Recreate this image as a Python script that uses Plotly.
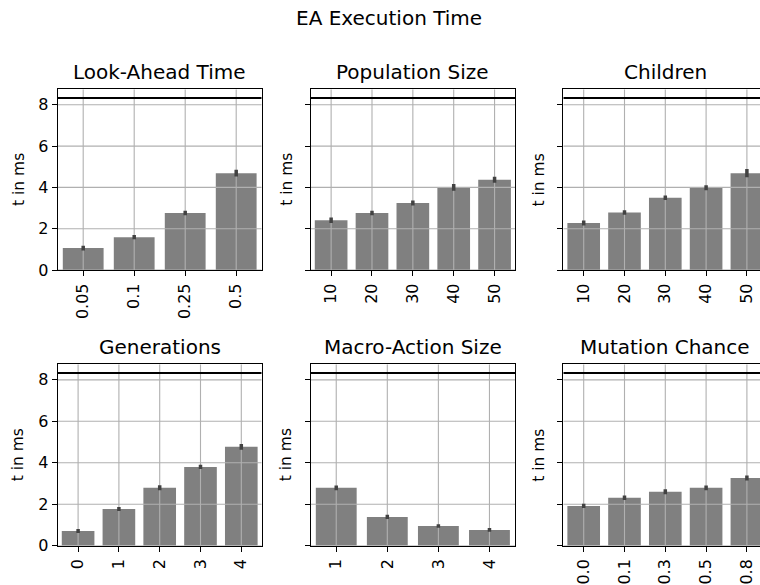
import plotly.graph_objects as go

# ---------------- data ----------------
lookahead_labels = ["0.05", "0.1", "0.25", "0.5"]
lookahead_means = [1.06, 1.59, 2.76, 4.69]
lookahead_err = [0.11, 0.10, 0.11, 0.16]

population_labels = ["10", "20", "30", "40", "50"]
population_means = [2.41, 2.76, 3.24, 4.00, 4.37]
population_err = [0.13, 0.11, 0.12, 0.16, 0.14]

children_labels = ["10", "20", "30", "40", "50"]
children_means = [2.28, 2.78, 3.50, 3.98, 4.69]
children_err = [0.12, 0.11, 0.11, 0.12, 0.20]

generations_labels = ["0", "1", "2", "3", "4"]
generations_means = [0.71, 1.77, 2.79, 3.80, 4.77]
generations_err = [0.10, 0.10, 0.12, 0.10, 0.14]

macro_labels = ["1", "2", "3", "4"]
macro_means = [2.79, 1.39, 0.95, 0.76]
macro_err = [0.11, 0.10, 0.09, 0.09]

mutation_labels = ["0.0", "0.1", "0.3", "0.5", "0.8"]
mutation_means = [1.92, 2.31, 2.60, 2.79, 3.27]
mutation_err = [0.10, 0.11, 0.12, 0.11, 0.12]

panel_titles = ["Look-Ahead Time", "Population Size", "Children",
                "Generations", "Macro-Action Size", "Mutation Chance"]
budget_line = 8.33
y_ticks = [0, 2, 4, 6, 8]
y_max = 8.75

panels = [
    (lookahead_labels, lookahead_means, lookahead_err),
    (population_labels, population_means, population_err),
    (children_labels, children_means, children_err),
    (generations_labels, generations_means, generations_err),
    (macro_labels, macro_means, macro_err),
    (mutation_labels, mutation_means, mutation_err),
]

# ---------------- layout geometry ----------------
W, H = 760, 585
col_px = [(57.7, 261.7), (310.7, 515.0), (563.3, 760.0)]
row_px = [(89.3, 270.0), (364.3, 545.7)]
px_per_unit = 204.0 / 5.0  # for 5-bar panels in third column

FONT = "DejaVu Sans"
BAR_COLOR = "#808080"
ERR_COLOR = "#424242"
GRID_COLOR = "#b0b0b0"

fig = go.Figure()
layout = dict(
    width=W, height=H,
    margin=dict(l=0, r=0, t=0, b=0, pad=0, autoexpand=False),
    paper_bgcolor="white", plot_bgcolor="white",
    showlegend=False,
    font=dict(family=FONT, color="black"),
    annotations=[], shapes=[],
)

for k, (labels, means, errs) in enumerate(panels):
    r, c = divmod(k, 3)
    n = len(labels)
    idx = list(range(n))
    xa = "x" if k == 0 else f"x{k+1}"
    ya = "y" if k == 0 else f"y{k+1}"
    x0p, x1p = col_px[c]
    top, bot = row_px[r]
    xr0 = -0.5
    if c == 2:
        xr1 = xr0 + (x1p - x0p) / px_per_unit
    else:
        xr1 = n - 0.5

    # bars
    fig.add_trace(go.Bar(x=idx, y=means, width=0.8, marker=dict(color=BAR_COLOR, line=dict(width=0)),
                         xaxis=xa, yaxis=ya, hoverinfo="skip"))
    # grid lines (drawn above bars, like matplotlib)
    gx, gy = [], []
    for t in y_ticks:
        gx += [xr0, xr1, None]
        gy += [t, t, None]
    for i in idx:
        gx += [i, i, None]
        gy += [0, y_max, None]
    fig.add_trace(go.Scatter(x=gx, y=gy, mode="lines", line=dict(color=GRID_COLOR, width=1.1),
                             xaxis=xa, yaxis=ya, hoverinfo="skip"))
    # budget line
    fig.add_trace(go.Scatter(x=[xr0, xr1], y=[budget_line, budget_line], mode="lines",
                             line=dict(color="black", width=2.1), xaxis=xa, yaxis=ya, hoverinfo="skip"))
    # error bars
    ex, ey = [], []
    for i, m, e in zip(idx, means, errs):
        ex += [i, i, None]
        ey += [m - e, m + e, None]
    fig.add_trace(go.Scatter(x=ex, y=ey, mode="lines", line=dict(color=ERR_COLOR, width=3.5),
                             xaxis=xa, yaxis=ya, hoverinfo="skip"))

    xkey = "xaxis" if k == 0 else f"xaxis{k+1}"
    ykey = "yaxis" if k == 0 else f"yaxis{k+1}"
    layout[xkey] = dict(
        domain=[x0p / W, x1p / W], anchor=ya, range=[xr0, xr1], automargin=False,
        tickmode="array", tickvals=idx, ticktext=labels, tickangle=-90,
        ticks="outside", ticklen=5, tickwidth=1.1, tickcolor="black", ticklabelstandoff=1,
        showline=True, linecolor="black", linewidth=1.1, mirror=True,
        showgrid=False, zeroline=False, fixedrange=True,
        tickfont=dict(family=FONT, size=16, color="black"),
    )
    layout[ykey] = dict(
        domain=[1 - bot / H, 1 - top / H], anchor=xa, range=[0, y_max], automargin=False,
        tickmode="array", tickvals=y_ticks, ticktext=[str(t) for t in y_ticks],
        showticklabels=(c == 0),
        ticks="outside", ticklen=5, tickwidth=1.1, tickcolor="black",
        showline=True, linecolor="black", linewidth=1.1, mirror=(c != 2),
        showgrid=False, zeroline=False, fixedrange=True,
        tickfont=dict(family=FONT, size=16, color="black"),
    )
    # subplot title
    layout["annotations"].append(dict(
        text=panel_titles[k], xref="paper", yref="paper",
        x=(x0p + 102.0) / W, y=1 - top / H, xanchor="center", yanchor="middle",
        yshift=17, showarrow=False, font=dict(family=FONT, size=20, color="black"),
    ))
    # y label
    lab_x = x0p - (39.4 if c == 0 else 24.5)
    layout["annotations"].append(dict(
        text="t in ms", xref="paper", yref="paper",
        x=lab_x / W, y=1 - (top + bot) / 2 / H, xanchor="center", yanchor="middle",
        textangle=-90, showarrow=False, font=dict(family=FONT, size=15.5, color="black"),
    ))

layout["annotations"].append(dict(
    text="EA Execution Time", xref="paper", yref="paper",
    x=388.5 / W, y=1 - 17.5 / H, xanchor="center", yanchor="middle",
    showarrow=False, font=dict(family=FONT, size=20, color="black"),
))

fig.update_layout(**layout)
fig.write_html("out.html")
